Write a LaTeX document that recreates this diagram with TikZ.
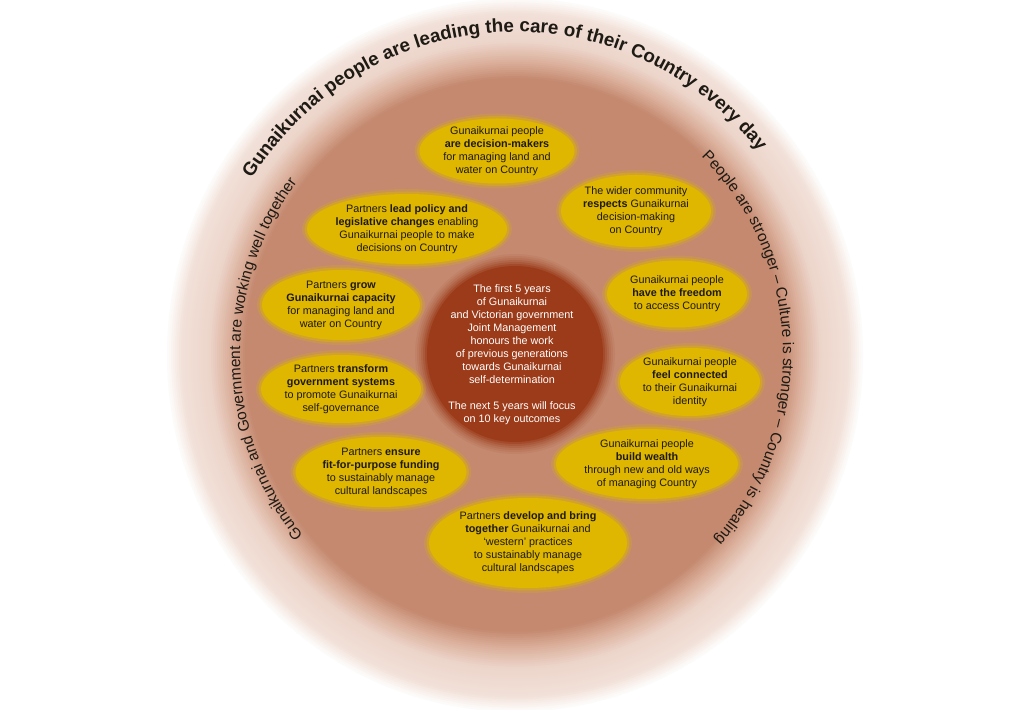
\documentclass[tikz,border=0pt]{standalone}
\usepackage{fontspec}
\setmainfont{Liberation Sans}
\usetikzlibrary{decorations.text,calc}
\definecolor{pale}{HTML}{F2E1D9}
\definecolor{pale2}{HTML}{ECD4C9}
\definecolor{midring}{HTML}{DAAD98}
\definecolor{innerc}{HTML}{C4896F}
\definecolor{gold}{HTML}{DFB600}
\definecolor{core}{HTML}{9C3B19}
\definecolor{ink}{HTML}{1E1A14}
\newcommand\titlefont{\bfseries\fontsize{18.8}{18.8}\selectfont}
\newcommand\sidefont{\fontsize{15.5}{15.5}\selectfont}
\tikzset{
  goaltext/.style={font=\fontsize{10.8}{13}\selectfont, align=center, text=ink, inner sep=0pt},
  coretext/.style={font=\fontsize{10.8}{13}\selectfont, align=center, text=white, inner sep=0pt},
  ringtext/.style={decorate, decoration={text along path, text align=center, text color=ink, text={#1}}}
}
\newcommand\goal[6]{%
  \fill[gold,opacity=0.22] (#2,#3) ellipse[x radius={#4/2+5}, y radius={#5/2+5}];
  \fill[gold,opacity=0.45] (#2,#3) ellipse[x radius={#4/2+2.5}, y radius={#5/2+2.5}];
  \fill[gold] (#2,#3) ellipse[x radius={#4/2}, y radius={#5/2}];
  \node[goaltext] (#1) at (#2,#3) {#6};
}
\begin{document}
\begin{tikzpicture}[x=1pt,y=1pt]
\fill[white] (0,0) rectangle (1024,709);
\useasboundingbox (0,0) rectangle (1024,709);
\coordinate (C) at (515,354);
% ring gradient
\foreach \r in {350,348,...,334}{\pgfmathtruncatemacro\p{(\r-334)*100/16}\fill[white!\p!pale] (C) ellipse[x radius=\r, y radius={1.025*\r}];}
\foreach \r in {332,330,...,306}{\pgfmathtruncatemacro\p{(\r-306)*100/28}\fill[pale!\p!pale2] (C) ellipse[x radius=\r, y radius={1.025*\r}];}
\foreach \r in {304,302,...,286}{\pgfmathtruncatemacro\p{(\r-286)*100/20}\fill[pale2!\p!midring] (C) ellipse[x radius=\r, y radius={1.025*\r}];}
\foreach \r in {284,282,...,270}{\pgfmathtruncatemacro\p{(\r-270)*100/16}\fill[midring!\p!innerc] (C) ellipse[x radius=\r, y radius={1.025*\r}];}
\fill[innerc] (C) ellipse[x radius=268, y radius={1.025*268}];
% ring texts
\path[ringtext={|\titlefont|Gunaikurnai people are leading the care of their Country every day}]
  ($(C)+(153:314 and 323)$) arc[start angle=153, end angle=33, x radius=314, y radius=323];
\path[ringtext={|\sidefont|Gunaikurnai and Government are working well together}]
  ($(C)+(231:275 and 283)$) arc[start angle=231, end angle=131, x radius=275, y radius=283];
\path[ringtext={|\sidefont|People are stronger – Culture is stronger – Country is healing}]
  ($(C)+(52:268 and 276)$) arc[start angle=52, end angle=-48, x radius=268, y radius=276];
% centre
\coordinate (B) at (515,355);
\foreach \r/\o in {100/0.08,98/0.1,96/0.14,94/0.2,92/0.3,90/0.45}{\fill[core,opacity=\o] (B) circle (\r);}
\fill[core] (B) circle (88);
\node[coretext] (centre) at (512,354) {The first 5 years\\of Gunaikurnai\\and Victorian government\\Joint Management\\honours the work\\of previous generations\\towards Gunaikurnai\\self-determination\\[13pt]The next 5 years will focus\\on 10 key outcomes};
% goals
\goal{g1}{497}{558}{155}{65}{Gunaikurnai people\\\textbf{are decision-makers}\\for managing land and\\water on Country}
\goal{g2}{407}{480}{200}{70}{Partners \textbf{lead policy and}\\\textbf{legislative changes} enabling\\Gunaikurnai people to make\\decisions on Country}
\goal{g3}{636}{498}{150}{72}{The wider community\\\textbf{respects} Gunaikurnai\\decision-making\\on Country}
\goal{g4}{341}{404}{158}{70}{Partners \textbf{grow}\\\textbf{Gunaikurnai capacity}\\for managing land and\\water on Country}
\goal{g5}{677}{415}{140}{67}{Gunaikurnai people\\\textbf{have the freedom}\\to access Country}
\goal{g6}{341}{320}{160}{68}{Partners \textbf{transform}\\\textbf{government systems}\\to promote Gunaikurnai\\self-governance}
\goal{g7}{690}{327}{140}{68}{Gunaikurnai people\\\textbf{feel connected}\\to their Gunaikurnai\\identity}
\goal{g8}{381}{237}{171}{70}{Partners \textbf{ensure}\\\textbf{fit-for-purpose funding}\\to sustainably manage\\cultural landscapes}
\goal{g9}{647}{245}{182}{70}{Gunaikurnai people\\\textbf{build wealth}\\through new and old ways\\of managing Country}
\goal{g10}{528}{166}{198}{90}{Partners \textbf{develop and bring}\\\textbf{together} Gunaikurnai and\\‘western’ practices\\to sustainably manage\\cultural landscapes}
\end{tikzpicture}
\end{document}
